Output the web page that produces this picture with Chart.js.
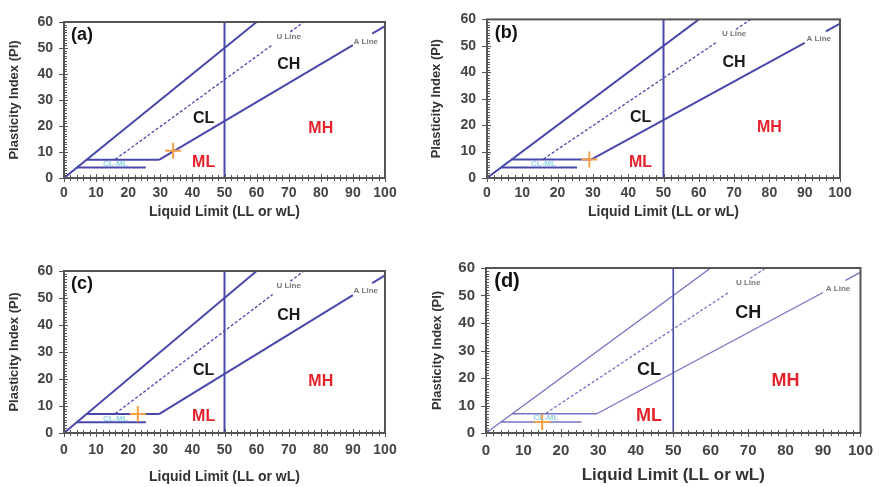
<!DOCTYPE html>
<html>
<head>
<meta charset="utf-8">
<script src="https://cdn.jsdelivr.net/npm/chart.js@4/dist/chart.umd.min.js"></script>
<style>
  body { margin: 0; background: #fff; width: 882px; height: 487px; position: relative; overflow: hidden; }
  .panel { position: absolute; }
</style>
</head>
<body>
<div class="panel" style="left:0px;top:0px;width:440px;height:225px"><canvas id="chartA"></canvas></div>
<div class="panel" style="left:428px;top:0px;width:454px;height:225px"><canvas id="chartB"></canvas></div>
<div class="panel" style="left:0px;top:246px;width:440px;height:241px"><canvas id="chartC"></canvas></div>
<div class="panel" style="left:428px;top:246px;width:454px;height:241px"><canvas id="chartD"></canvas></div>
<script>
// plasticity chart lines (LL on x, PI on y)
var upperLL = [0, 60], upperPI = [0, 60];
var uLineLL = [16, 65], uLinePI = [7.2, 51.3];
var uLineTopLL = [70.5, 74.7], uLinePITop = [56.2, 60];
var aLineLL = [29.6, 90], aLinePI = [7, 51.1];
var aLineTopLL = [96, 100], aLineTopPI = [55.5, 58.4];
var boundLL = [50, 50], boundPI = [0, 60];
var clmlTopLL = [7, 29.6], clmlTopPI = [7, 7];
var clmlBotLL = [4, 25.5], clmlBotPI = [4, 4];

// one sample per panel
var panelNames = ['(a)', '(b)', '(c)', '(d)'];
var sampleLL = [34, 29, 23, 15];
var samplePI = [10.5, 7, 7, 4];

// labels
var zoneNames = ['CH', 'CL', 'MH', 'ML'];
var zoneLL = [70, 43.5, 80, 43.5];
var zonePI = [43.5, 23, 19, 6];
var lineNames = ['U Line', 'A Line'];
var lineNameLL = [70, 94];
var lineNamePI = [54.5, 52.5];
var llTicks = [0, 10, 20, 30, 40, 50, 60, 70, 80, 90, 100];
var piTicks = [0, 10, 20, 30, 40, 50, 60];

function pts(xs, ys) {
    return xs.map(function(x, i){ return {x: x, y: ys[i]}; });
}

var frameAndText = {
    id: 'frameAndText',
    afterDatasetsDraw: function(chart, args, opts) {
        var ctx = chart.ctx, xs = chart.scales.x, ys = chart.scales.y, a = chart.chartArea;
        var k = opts.big ? 1.12 : 1;
        ctx.save();
        // tick marks
        ctx.strokeStyle = '#555';
        ctx.lineWidth = 1;
        for (var v = 0; v <= 100; v += 2) {
            var px = Math.round(xs.getPixelForValue(v)) + 0.5;
            var len = v % 10 === 0 ? 4 : 3;
            ctx.beginPath(); ctx.moveTo(px, a.bottom - len); ctx.lineTo(px, a.bottom + len); ctx.stroke();
        }
        for (var w = 0; w <= 60; w += 1) {
            var py = Math.round(ys.getPixelForValue(w)) + 0.5;
            ctx.beginPath();
            if (w % 10 === 0) { ctx.moveTo(a.left - 5, py); ctx.lineTo(a.left + 4, py); }
            else { ctx.moveTo(a.left, py); ctx.lineTo(a.left + 3, py); }
            ctx.stroke();
        }
        // frame
        ctx.strokeStyle = '#555';
        ctx.lineWidth = 2;
        ctx.strokeRect(a.left, a.top, a.right - a.left, a.bottom - a.top);

        ctx.textBaseline = 'middle';
        ctx.textAlign = 'left';
        ctx.fillStyle = '#111';
        ctx.font = 'bold ' + Math.round(18 * k) + 'px "Liberation Sans", Arial, sans-serif';
        ctx.fillText(opts.name, xs.getPixelForValue(2.2), ys.getPixelForValue(55));

        ctx.textAlign = 'center';
        ctx.font = 'bold ' + Math.round(16 * k) + 'px "Liberation Sans", Arial, sans-serif';
        zoneNames.forEach(function(n, i){
            ctx.fillStyle = n.charAt(0) === 'M' ? '#e4222b' : '#1a1a1a';
            ctx.fillText(n, xs.getPixelForValue(zoneLL[i]), ys.getPixelForValue(zonePI[i]));
        });
        ctx.font = 'bold 8px "Liberation Sans", Arial, sans-serif';
        ctx.fillStyle = '#777';
        lineNames.forEach(function(n, i){
            ctx.fillText(n, xs.getPixelForValue(lineNameLL[i]), ys.getPixelForValue(lineNamePI[i]));
        });
        ctx.fillStyle = '#8fd3e6';
        ctx.fillText('CL-ML', xs.getPixelForValue(16), ys.getPixelForValue(5.4));
        ctx.restore();
    }
};

function makeChart(id, idx, lay) {
    var big = idx === 3;
    var lineColor = big ? 'rgba(90,90,185,0.85)' : 'rgb(72,72,170)';
    var lw = big ? 1.3 : 2;
    function seg(xs, ys, dashed, color, width) {
        return {
            data: pts(xs, ys), showLine: true, pointRadius: 0, fill: false,
            borderColor: color || lineColor, borderWidth: width || (dashed ? 1.3 : lw),
            borderDash: dashed ? [3, 2] : []
        };
    }
    var datasets = [
        {
            // sample first so it is drawn on top
            data: [{x: sampleLL[idx], y: samplePI[idx]}],
            pointStyle: 'cross', pointRadius: 8, pointBorderWidth: 2,
            borderColor: '#f3a046', backgroundColor: '#f3a046', showLine: false
        },
        seg(upperLL, upperPI),
        seg(uLineLL, uLinePI, true),
        seg(uLineTopLL, uLinePITop, true),
        seg(aLineLL, aLinePI),
        seg(aLineTopLL, aLineTopPI),
        seg(boundLL, boundPI, false, 'rgb(72,72,170)', big ? 1.6 : 2),
        seg(clmlTopLL, clmlTopPI),
        seg(clmlBotLL, clmlBotPI)
    ];
    var tickFont = {family: '"Liberation Sans", Arial, sans-serif', size: big ? 15 : 14, weight: 'bold'};
    new Chart(document.getElementById(id), {
        type: 'scatter',
        data: {datasets: datasets},
        plugins: [frameAndText],
        options: {
            responsive: true,
            maintainAspectRatio: false,
            animation: false,
            layout: {padding: {top: lay.top, right: lay.right, left: 0, bottom: 0}},
            plugins: {
                legend: {display: false},
                tooltip: {enabled: false},
                frameAndText: {name: panelNames[idx], big: big}
            },
            scales: {
                x: {
                    type: 'linear', min: 0, max: 100,
                    afterBuildTicks: function(s){ s.ticks = llTicks.map(function(v){ return {value: v}; }); },
                    afterFit: function(s){ s.height = lay.xH; },
                    grid: {display: false, drawTicks: false},
                    border: {display: false},
                    ticks: {color: '#444', font: tickFont, padding: lay.xPad, maxRotation: 0},
                    title: {display: true, text: 'Liquid Limit (LL or wL)', color: '#333',
                        font: {family: '"Liberation Sans", Arial, sans-serif', size: big ? 17 : 14, weight: 'bold'},
                        padding: {top: 0, bottom: lay.xTitle}}
                },
                y: {
                    type: 'linear', min: 0, max: 60,
                    afterBuildTicks: function(s){ s.ticks = piTicks.map(function(v){ return {value: v}; }); },
                    afterFit: function(s){ s.width = lay.yW; },
                    grid: {display: false, drawTicks: false},
                    border: {display: false},
                    ticks: {color: '#444', font: tickFont, padding: 11},
                    title: {display: true, text: 'Plasticity Index (PI)', color: '#333',
                        font: {family: '"Liberation Sans", Arial, sans-serif', size: 13, weight: 'bold'},
                        padding: {top: lay.yTitle, bottom: 0}}
                }
            }
        }
    });
}

makeChart('chartA', 0, {top: 22, right: 55, yW: 64, xH: 47, xPad: 7, xTitle: 4, yTitle: 7});
makeChart('chartB', 1, {top: 14, right: 42, yW: 59, xH: 47, xPad: 7, xTitle: 4, yTitle: 1});
makeChart('chartC', 2, {top: 25, right: 55, yW: 64, xH: 54, xPad: 9, xTitle: 1, yTitle: 7});
makeChart('chartD', 3, {top: 22, right: 19, yW: 58, xH: 54, xPad: 9, xTitle: 1, yTitle: 2});
</script>
</body>
</html>
